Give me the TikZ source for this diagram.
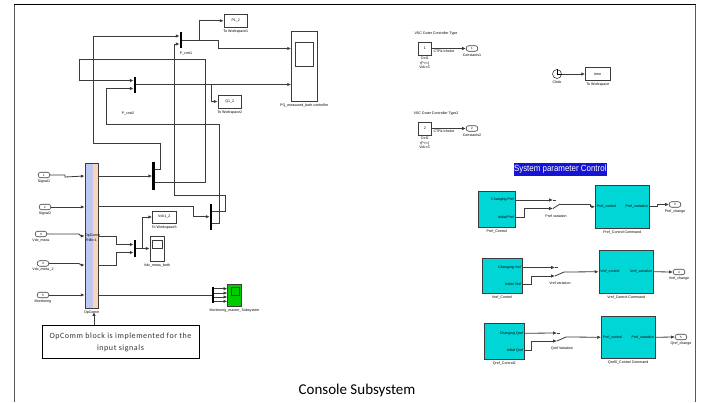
\documentclass[tikz,border=0pt]{standalone}
\usepackage{fontspec}
\setmainfont{Liberation Sans}
\newfontfamily\calloutfont{Carlito}
\newfontfamily\headfont[FakeStretch=0.88]{Liberation Sans}
\usepackage{tikz}
\usetikzlibrary{arrows.meta,positioning,calc}
\definecolor{wirecol}{RGB}{60,60,60}
\definecolor{blockcyan}{RGB}{0,214,214}
\definecolor{opblue}{RGB}{190,200,240}
\definecolor{oporange}{RGB}{252,212,188}
\definecolor{headblue}{RGB}{20,20,210}
\definecolor{scopegreen}{RGB}{0,205,0}

\begin{document}
\begin{tikzpicture}[
    x=1pt, y=-1pt,
    wire/.style={-{Latex[length=3.8pt,width=3.4pt]}, line width=0.8pt, draw=wirecol},
    line/.style={line width=0.8pt, draw=wirecol},
    mux/.style={rectangle, fill=black, inner sep=0pt, minimum width=2.2pt},
    block/.style={rectangle, draw=wirecol, line width=0.8pt, inner sep=0pt, font=\fontsize{3.6}{4}\selectfont},
    ctrl/.style={block, fill=blockcyan, line width=0.9pt},
    pill/.style={rectangle, rounded corners=2.4pt, draw=wirecol, line width=0.6pt, inner sep=0pt,
                 minimum width=11.5pt, minimum height=5.5pt, font=\fontsize{3}{3.4}\selectfont},
    lbl/.style={inner sep=0pt, align=center, font=\fontsize{3.6}{4.6}\selectfont},
]
    \useasboundingbox (0,0) rectangle (702,402);
    \draw[line width=1pt, draw=black!65] (14,402) -- (14,4.5);
    \draw[line width=1pt, draw=black] (14,4.5) -- (695.5,4.5);
    \draw[line width=1pt, draw=black!65] (695.5,4.5) -- (695.5,402);

    % left part
    \node[block, minimum width=13.5pt, minimum height=145.5pt, fill=oporange,
          path picture={\fill[opblue] (path picture bounding box.south west) rectangle
                        ($(path picture bounding box.north west)+(8,0)$);}] (opcomm) at (91.75,235.75) {};
    \node[lbl, text width=13pt] (opcommtxt) at (91.5,238) {OpComm\\Rtlb=1};
    \node[lbl, below=2pt of opcomm] (opcommlbl) {OpComm};

    \node[pill] (signalone) at (44,175) {1};
    \node[lbl, below=1.5pt of signalone] (signalonelbl) {Signal1};
    \node[pill] (signaltwo) at (45,207) {2};
    \node[lbl, below=1.5pt of signaltwo] (signaltwolbl) {Signal2};
    \node[pill] (vdcone) at (41,234) {3};
    \node[lbl, below=1.5pt of vdcone] (vdconelbl) {Vdc\_meas};
    \node[pill] (vdctwo) at (43,263.5) {4};
    \node[lbl, below=1.5pt of vdctwo] (vdctwolbl) {Vdc\_meas\_2};
    \node[pill] (monitor) at (43,295) {5};
    \node[lbl, below=1.5pt of monitor] (monitorlbl) {Monitoring};

    \node[mux, minimum height=16pt] (muxone) at (181,40) {};
    \node[mux, minimum height=16pt] (muxtwo) at (135,84.5) {};
    \node[mux, minimum height=28pt] (muxthree) at (153.5,176) {};
    \node[mux, minimum height=26pt] (muxfour) at (211,217) {};
    \node[mux, minimum height=17pt] (muxfive) at (135,248.5) {};
    \node[mux, minimum height=16.5pt] (muxsix) at (213,295) {};
    \node[lbl] (muxonelbl) at (186,53.5) {P\_cntr1};
    \node[lbl] (muxtwolbl) at (128,113.5) {P\_cntr2};

    \node[block, minimum width=23.5pt, minimum height=12.5pt] (pone) at (235.75,20.75) {P1\_2};
    \node[lbl, below=2pt of pone] (ponelbl) {To Workspace1};
    \node[block, minimum width=23.5pt, minimum height=13pt] (qone) at (229.75,101.5) {Q1\_2};
    \node[lbl, below=2pt of qone] (qonelbl) {To Workspace2};
    \node[block, minimum width=23.5pt, minimum height=12pt] (vdcblk) at (164.25,217) {Vdc1\_2};
    \node[lbl, below=2pt of vdcblk] (vdcblklbl) {To Workspace3};

    \node[block, minimum width=25.5pt, minimum height=69.5pt] (pqscope) at (304.25,66.25) {};
    \node[block, minimum width=18pt, minimum height=24pt] (pqinner) at (304,54) {};
    \node[lbl, below=2pt of pqscope] (pqscopelbl) {PQ\_measured\_both controller};
    \node[block, minimum width=14pt, minimum height=25pt] (vdcscope) at (157,248.5) {};
    \node[block, minimum width=10pt, minimum height=8.5pt] (vdcinner) at (157,244.5) {};
    \node[lbl, below=2pt of vdcscope] (vdcscopelbl) {Vdc\_meas\_both};

    \node[block, fill=scopegreen, minimum width=13.5pt, minimum height=21.5pt] (monscope) at (234.5,295.25) {};
    \node[block, fill=scopegreen, minimum width=8.5pt, minimum height=8pt] (moninner) at (235.25,291) {};
    \node[lbl, below=2.5pt of monscope] (monscopelbl) {Monitoring\_master\_Subsystem};

    \node[block, draw=black, minimum width=157pt, minimum height=33pt, align=center,
          font=\calloutfont\fontsize{8}{12}\selectfont\addfontfeatures{LetterSpace=7}, text=black!80] (note) at (120.5,342)
          {OpComm block is implemented for the\\input signals};

    \draw[wire] (signalone) -- (65,175) -- (65,177) -- (opcomm.west |- muxthree);
    \draw[wire] (signaltwo) -- (opcomm.west |- signaltwo);
    \draw[wire] (vdcone) -- (79,234) -- (81,236) -- (opcomm.west |- 0,236);
    \draw[wire] (vdctwo) -- (79,263.5) -- (81,265) -- (opcomm.west |- 0,265);
    \draw[wire] (monitor) -- (opcomm.west |- monitor);
    \draw[wire] (note.north -| 94,0) -- (94,312);

    \draw[wire] (opcomm.east |- muxthree) -- (muxthree.west);
    \draw[wire] (opcomm.east |- 0,206) -- (193,206) -- (193,216.7) -- (muxfour.west |- 0,216.7);
    \draw[wire] (opcomm.east |- 0,236) -- (116.5,236) |- ([yshift=4pt]muxfive.west);
    \draw[wire] (opcomm.east |- 0,265) -- (116.5,265) |- ([yshift=-4pt]muxfive.west);
    \draw[line] (opcomm.east |- muxsix) -- (muxsix.west);

    % crossing wires
    \draw[wire] ([yshift=7pt]muxthree.east) -- (160,169) -- (160,143) -- (93.5,143) |- ([yshift=4pt]muxone.west);
    \draw[wire] ([yshift=-6.5pt]muxthree.east) -- (205,182.5) -- (205,59) -- (79,59) |- ([yshift=4pt]muxtwo.west);
    \draw[wire] ([yshift=-6pt]muxfour.east) -- (219.5,223) -- (219.5,124.5) -- (106,124.5) |- ([yshift=-4pt]muxtwo.west);
    \draw[wire] ([yshift=6pt]muxfour.east) -- (225.5,211) -- (225.5,195) -- (174,195) |- ([yshift=-4pt]muxone.west);

    \draw[wire] (muxone.east) -- (199,40) |- (pone.west);
    \draw[wire] (muxone.east) -- (218,40) -- (218,48.5) -- (pqscope.west |- 0,48.5);
    \draw[wire] (muxtwo.east) -- (pqscope.west |- muxtwo);
    \draw[wire] (211,84.5) |- (qone.west);
    \draw[wire] (muxfive.east) -- (vdcscope.west);
    \draw[wire] (142,248.5) |- (vdcblk.west);

    \draw[wire] ([yshift=6.3pt]muxsix.east) -- (monscope.west |- 0,288.7);
    \draw[wire] ([yshift=2pt]muxsix.east) -- (monscope.west |- 0,293);
    \draw[wire] ([yshift=-2pt]muxsix.east) -- (monscope.west |- 0,297);
    \draw[wire] ([yshift=-6.3pt]muxsix.east) -- (monscope.west |- 0,301.3);

    % VSC constants and clock
    \node[lbl] (ctrlonehead) at (436,34) {VSC Outer Controller Type};
    \node[block, minimum width=12.5pt, minimum height=13pt] (ctrlone) at (424.75,48.5) {1};
    \node[lbl, below=1.5pt of ctrlone] (ctrlonelbl) {Ctrl1\\(P=\textless)\\Vdc=C};
    \node[pill] (constone) at (472,48.5) {1};
    \node[lbl, below=2pt of constone] (constonelbl) {Constants1};
    \node[lbl] (choiceone) at (444,51.5) {CTRL/choice};
    \draw[wire] (ctrlone) -- (constone);

    \node[lbl] (ctrltwohead) at (436,114) {VSC Outer Controller Type2};
    \node[block, minimum width=12.5pt, minimum height=13pt] (ctrltwo) at (424.75,128.5) {2};
    \node[lbl, below=1.5pt of ctrltwo] (ctrltwolbl) {Ctrl2\\(P=\textless)\\Vdc=C};
    \node[pill] (consttwo) at (472,128.5) {2};
    \node[lbl, below=2pt of consttwo] (consttwolbl) {Constants2};
    \node[lbl] (choicetwo) at (444,131.5) {CTRL/choice};
    \draw[wire] (ctrltwo) -- (consttwo);

    \node[circle, draw=wirecol, line width=0.6pt, minimum size=9pt, inner sep=0pt] (clock) at (557,74) {};
    \draw[line width=0.5pt] (clock.center) -- (clock.north) (clock.center) -- (clock.east);
    \node[lbl, below=2pt of clock] (clocklbl) {Clock};
    \node[block, minimum width=24.5pt, minimum height=12.5pt] (timeblk) at (597.75,74) {time};
    \node[lbl, below=2pt of timeblk] (timelbl) {To Workspace};
    \draw[wire] (clock) -- (timeblk);

    \node[fill=headblue, text=white, minimum width=93.5pt, minimum height=13pt, inner sep=0pt,
          font=\headfont\fontsize{9}{10}\selectfont] (syshead) at (560.25,169) {System parameter Control};

    % Pref row
    \node[ctrl, minimum width=36.5pt, minimum height=36pt] (prefctl) at (496.75,209) {};
    \node[lbl, below=2pt of prefctl] (prefctllbl) {Pref\_Control};
    \node[lbl, anchor=east] (prefchg) at ([xshift=-1pt,yshift=9pt]prefctl.east) {Changing Pref};
    \node[lbl, anchor=east] (prefini) at ([xshift=-1pt,yshift=-8pt]prefctl.east) {Initial Pref};
    \coordinate (prefup) at (553,200);
    \coordinate (preflow) at (553,208.5);
    \coordinate (prefout) at (560,204);
    \node[lbl] (prefvar) at (556,216) {Pref variation};
    \node[ctrl, minimum width=53.5pt, minimum height=42.5pt] (prefcmd) at (622.25,206.75) {};
    \node[lbl, below=2pt of prefcmd] (prefcmdlbl) {Pref\_Control Command};
    \node[lbl, anchor=west] (prefin) at ([xshift=1.5pt]prefcmd.west) {Pref\_control};
    \node[lbl, anchor=east] (prefvr) at ([xshift=-1.5pt]prefcmd.east) {Pref\_variation};
    \node[pill] (prefpill) at (675,204.5) {3};
    \node[lbl, below=2pt of prefpill] (prefpilllbl) {Pref\_change};
    \draw[wire] ([yshift=9pt]prefctl.east) -- (prefup);
    \draw[wire] ([yshift=-8pt]prefctl.east) -- ++(8.5,0) |- (preflow);
    \draw[line] (preflow) -- (prefout);
    \draw[line] (prefup) -- ++(3,0);
    \draw[wire] (prefout) -- (590,204) |- (prefcmd.west);
    \draw[wire] (prefcmd.east) -- ++(8,0) |- (prefpill.west);

    % Vref row
    \node[ctrl, minimum width=40pt, minimum height=35pt] (vrefctl) at (502,275.5) {};
    \node[lbl, below=2pt of vrefctl] (vrefctllbl) {Vref\_Control};
    \node[lbl, anchor=east] (vrefchg) at ([xshift=-1pt,yshift=8pt]vrefctl.east) {Changing Vref};
    \node[lbl, anchor=east] (vrefini) at ([xshift=-1pt,yshift=-9pt]vrefctl.east) {Initial Vref};
    \coordinate (vrefup) at (555,267.5);
    \coordinate (vreflow) at (555,276);
    \coordinate (vrefout) at (564,272);
    \node[lbl] (vrefvar) at (560,283) {Vref variation};
    \node[ctrl, minimum width=54.5pt, minimum height=42.5pt] (vrefcmd) at (626.25,271.75) {};
    \node[lbl, below=2pt of vrefcmd] (vrefcmdlbl) {Vref\_Control Command};
    \node[lbl, anchor=west] (vrefin) at ([xshift=1.5pt]vrefcmd.west) {Vref\_control};
    \node[lbl, anchor=east] (vrefvr) at ([xshift=-1.5pt]vrefcmd.east) {Vref\_variation};
    \node[pill] (vrefpill) at (679,272) {4};
    \node[lbl, below=2pt of vrefpill] (vrefpilllbl) {Vref\_change};
    \draw[wire] ([yshift=8pt]vrefctl.east) -- (vrefup);
    \draw[wire] ([yshift=-9pt]vrefctl.east) -- ++(8.5,0) |- (vreflow);
    \draw[line] (vreflow) -- (vrefout);
    \draw[line] (vrefup) -- ++(3,0);
    \draw[wire] (vrefout) -- (vrefcmd.west);
    \draw[wire] (vrefcmd.east) -- (vrefpill.west);

    % Qref row
    \node[ctrl, minimum width=39.5pt, minimum height=35.5pt] (qrefctl) at (504.25,341.25) {};
    \node[lbl, below=2pt of qrefctl] (qrefctllbl) {Qref\_Control2};
    \node[lbl, anchor=east] (qrefchg) at ([xshift=-1pt,yshift=8pt]qrefctl.east) {Changing Qref};
    \node[lbl, anchor=east] (qrefini) at ([xshift=-1pt,yshift=-9pt]qrefctl.east) {Initial Qref};
    \coordinate (qrefup) at (557,333);
    \coordinate (qreflow) at (557,341);
    \coordinate (qrefout) at (566,337);
    \node[lbl] (qrefvar) at (562,349) {Qref Variation};
    \node[ctrl, minimum width=53.5pt, minimum height=42.5pt] (qrefcmd) at (628.25,337.25) {};
    \node[lbl, below=2pt of qrefcmd] (qrefcmdlbl) {Qref0\_Control Command};
    \node[lbl, anchor=west] (qrefin) at ([xshift=1.5pt]qrefcmd.west) {Pref\_control};
    \node[lbl, anchor=east] (qrefvr) at ([xshift=-1.5pt]qrefcmd.east) {Pref\_variation};
    \node[pill] (qrefpill) at (681,337) {5};
    \node[lbl, below=2pt of qrefpill] (qrefpilllbl) {Qref\_change};
    \draw[wire] ([yshift=8pt]qrefctl.east) -- (qrefup);
    \draw[wire] ([yshift=-9pt]qrefctl.east) -- ++(7,0) |- (qreflow);
    \draw[line] (qreflow) -- (qrefout);
    \draw[line] (qrefup) -- ++(3,0);
    \draw[wire] (qrefout) -- (qrefcmd.west);
    \draw[wire] (qrefcmd.east) -- (qrefpill.west);

    \node[font=\calloutfont\fontsize{15}{17}\selectfont, inner sep=0pt] (console) at (357,390) {Console Subsystem};
\end{tikzpicture}
\end{document}
